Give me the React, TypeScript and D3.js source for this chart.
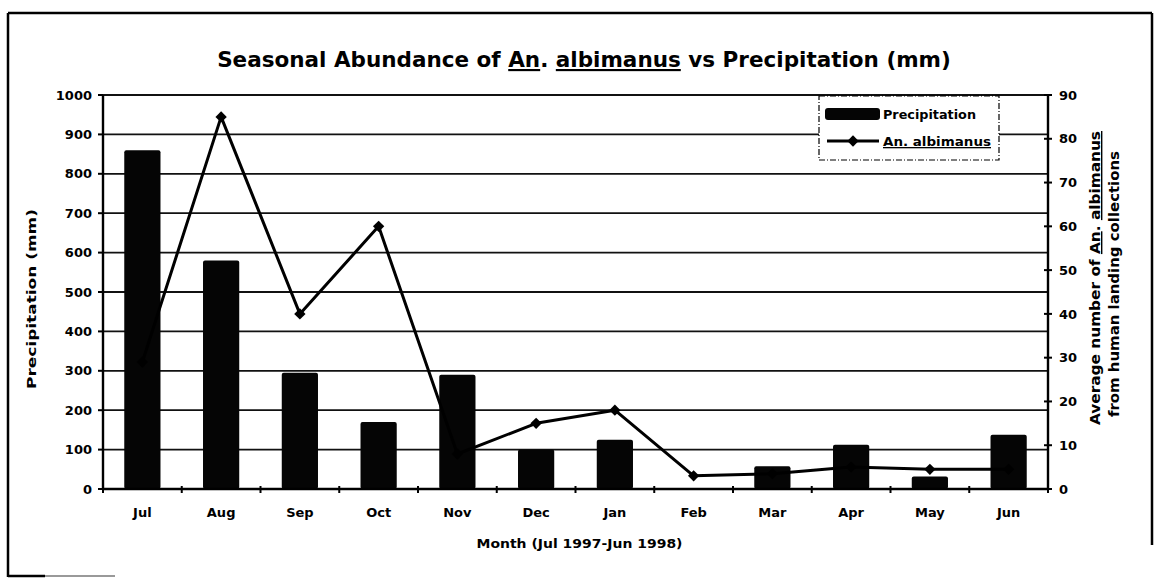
import React, { useRef, useEffect } from 'react';
import * as d3 from 'd3';

const months = ['Jul', 'Aug', 'Sep', 'Oct', 'Nov', 'Dec', 'Jan', 'Feb', 'Mar', 'Apr', 'May', 'Jun'];
// precipitation (mm), left axis
const precipitation = [860, 580, 295, 170, 290, 100, 125, 0, 58, 112, 32, 138];
// average An. albimanus per human landing collection, right axis
const albimanus = [29, 85, 40, 60, 8, 15, 18, 3, 3.5, 5, 4.5, 4.5];
const leftTicks = [0, 100, 200, 300, 400, 500, 600, 700, 800, 900, 1000];
const rightTicks = [0, 10, 20, 30, 40, 50, 60, 70, 80, 90];

const W = 1161;
const H = 581;
const margin = { top: 95, right: 113, bottom: 92, left: 103 };
const FONT = "'DejaVu Sans', 'Liberation Sans', sans-serif";

const App = () => {
  const chartRef = useRef<SVGSVGElement>(null);

  useEffect(() => {
    const svg = d3.select(chartRef.current);
    svg.selectAll('*').remove();

    const width = W - margin.left - margin.right;
    const height = H - margin.top - margin.bottom;

    // outer frame (scan is cut at the bottom)
    const frame = svg.append('g').attr('stroke', '#000').attr('stroke-width', 2.5);
    frame.append('line').attr('x1', 8).attr('y1', 13).attr('x2', 1152).attr('y2', 13);
    frame.append('line').attr('x1', 8).attr('y1', 13).attr('x2', 8).attr('y2', 577);
    frame.append('line').attr('x1', 1152).attr('y1', 13).attr('x2', 1152).attr('y2', 545);
    frame.append('line').attr('x1', 8).attr('y1', 576).attr('x2', 45).attr('y2', 576);
    svg.append('line').attr('x1', 45).attr('y1', 576).attr('x2', 115).attr('y2', 576)
      .attr('stroke', '#999').attr('stroke-width', 2);

    // title
    const title = svg.append('text')
      .attr('x', 584).attr('y', 67)
      .attr('text-anchor', 'middle')
      .style('font-family', FONT).style('font-weight', 'bold').style('font-size', '21.5px');
    title.append('tspan').text('Seasonal Abundance of ');
    title.append('tspan').attr('text-decoration', 'underline').text('An');
    title.append('tspan').text('. ');
    title.append('tspan').attr('text-decoration', 'underline').text('albimanus');
    title.append('tspan').text(' vs Precipitation (mm)');

    const con = svg.append('g').attr('transform', `translate(${margin.left}, ${margin.top})`);

    const x = d3.scaleBand().domain(months).range([0, width]).paddingInner(0.54).paddingOuter(0.27);
    const yL = d3.scaleLinear().domain([0, 1000]).range([height, 0]);
    const yR = d3.scaleLinear().domain([0, 90]).range([height, 0]);
    const step = x.step();

    // gridlines from left axis
    con.selectAll('.grid')
      .data(leftTicks.filter(t => t > 0))
      .enter()
      .append('line')
      .attr('x1', 0).attr('x2', width)
      .attr('y1', d => yL(d)).attr('y2', d => yL(d))
      .attr('stroke', '#111').attr('stroke-width', 1.8);

    // bars
    con.selectAll('.bar')
      .data(precipitation)
      .enter()
      .append('rect')
      .attr('x', (d, i) => x(months[i]))
      .attr('y', d => yL(d))
      .attr('width', x.bandwidth())
      .attr('height', d => height - yL(d))
      .attr('rx', 2)
      .attr('fill', '#050505');

    // axes
    const axes = con.append('g').attr('stroke', '#000').attr('stroke-width', 2.4);
    axes.append('line').attr('x1', 0).attr('y1', 0).attr('x2', 0).attr('y2', height);
    axes.append('line').attr('x1', width).attr('y1', 0).attr('x2', width).attr('y2', height);
    axes.append('line').attr('x1', 0).attr('y1', height).attr('x2', width).attr('y2', height);

    con.selectAll('.lt')
      .data(leftTicks)
      .enter()
      .append('line')
      .attr('x1', -5).attr('x2', 0)
      .attr('y1', d => yL(d)).attr('y2', d => yL(d))
      .attr('stroke', '#000').attr('stroke-width', 2);

    con.selectAll('.rt')
      .data(rightTicks)
      .enter()
      .append('line')
      .attr('x1', width - 4).attr('x2', width + 4)
      .attr('y1', d => yR(d)).attr('y2', d => yR(d))
      .attr('stroke', '#000').attr('stroke-width', 2);

    con.selectAll('.xt')
      .data(d3.range(months.length + 1))
      .enter()
      .append('line')
      .attr('x1', d => d * step).attr('x2', d => d * step)
      .attr('y1', height - 3).attr('y2', height + 4)
      .attr('stroke', '#000').attr('stroke-width', 2);

    const labelStyle = sel => sel
      .style('font-family', FONT).style('font-weight', 'bold').style('font-size', '13px');

    con.selectAll('.ll')
      .data(leftTicks)
      .enter()
      .append('text')
      .attr('x', -11).attr('y', d => yL(d)).attr('dy', '0.36em')
      .attr('text-anchor', 'end')
      .text(d => d)
      .call(labelStyle);

    con.selectAll('.rl')
      .data(rightTicks)
      .enter()
      .append('text')
      .attr('x', width + 11).attr('y', d => yR(d)).attr('dy', '0.36em')
      .attr('text-anchor', 'start')
      .text(d => d)
      .call(labelStyle);

    con.selectAll('.ml')
      .data(months)
      .enter()
      .append('text')
      .attr('x', d => x(d) + x.bandwidth() / 2).attr('y', height + 28)
      .attr('text-anchor', 'middle')
      .text(d => d)
      .call(labelStyle);

    // axis titles
    con.append('text')
      .attr('x', width / 2 + 4).attr('y', height + 59)
      .attr('text-anchor', 'middle')
      .attr('textLength', 206).attr('lengthAdjust', 'spacingAndGlyphs')
      .text('Month (Jul 1997-Jun 1998)')
      .call(labelStyle);

    svg.append('text')
      .attr('transform', `translate(36, 299) rotate(-90)`)
      .attr('text-anchor', 'middle')
      .attr('textLength', 180).attr('lengthAdjust', 'spacingAndGlyphs')
      .text('Precipitation (mm)')
      .call(labelStyle);

    const rt1 = svg.append('text')
      .attr('transform', `translate(1100, 278) rotate(-90)`)
      .attr('text-anchor', 'middle')
      .attr('textLength', 294).attr('lengthAdjust', 'spacingAndGlyphs')
      .call(labelStyle).style('font-size', '14px');
    rt1.append('tspan').text('Average number of ');
    rt1.append('tspan').attr('text-decoration', 'underline').text('An');
    rt1.append('tspan').text('. ');
    rt1.append('tspan').attr('text-decoration', 'underline').text('albimanus');
    svg.append('text')
      .attr('transform', `translate(1119, 284) rotate(-90)`)
      .attr('text-anchor', 'middle')
      .attr('textLength', 266).attr('lengthAdjust', 'spacingAndGlyphs')
      .text('from human landing collections')
      .call(labelStyle).style('font-size', '14px');

    // An. albimanus line
    const line = d3.line<number>()
      .x((d, i) => x(months[i]) + x.bandwidth() / 2)
      .y(d => yR(d));
    con.append('path')
      .datum(albimanus)
      .attr('d', line)
      .attr('fill', 'none')
      .attr('stroke', '#000')
      .attr('stroke-width', 3)
      .attr('stroke-linejoin', 'round');

    const diamond = d3.symbol().type(d3.symbolSquare).size(64);
    con.selectAll('.mk')
      .data(albimanus)
      .enter()
      .append('path')
      .attr('d', diamond)
      .attr('transform', (d, i) => `translate(${x(months[i]) + x.bandwidth() / 2}, ${yR(d)}) rotate(45)`)
      .attr('fill', '#000');

    // legend
    const lg = svg.append('g').attr('transform', 'translate(819, 96)');
    lg.append('rect')
      .attr('width', 180).attr('height', 64)
      .attr('fill', '#fff')
      .attr('stroke', '#000').attr('stroke-width', 1.2)
      .attr('stroke-dasharray', '6 2 1 2');
    lg.append('rect')
      .attr('x', 6).attr('y', 12).attr('width', 55).attr('height', 12)
      .attr('rx', 3).attr('fill', '#050505');
    lg.append('text')
      .attr('x', 64).attr('y', 23)
      .attr('textLength', 93).attr('lengthAdjust', 'spacingAndGlyphs')
      .text('Precipitation')
      .call(labelStyle);
    lg.append('line')
      .attr('x1', 8).attr('x2', 60).attr('y1', 45).attr('y2', 45)
      .attr('stroke', '#000').attr('stroke-width', 3);
    lg.append('path')
      .attr('d', diamond)
      .attr('transform', 'translate(34, 45) rotate(45)')
      .attr('fill', '#000');
    lg.append('text')
      .attr('x', 64).attr('y', 50)
      .attr('text-decoration', 'underline')
      .attr('textLength', 108).attr('lengthAdjust', 'spacingAndGlyphs')
      .text('An. albimanus')
      .call(labelStyle);
  }, []);

  return (
    <svg
      ref={chartRef}
      width={W}
      height={H}
      style={{ position: 'absolute', left: 0, top: 0, background: '#fff', display: 'block' }}
    />
  );
};

export default App;
